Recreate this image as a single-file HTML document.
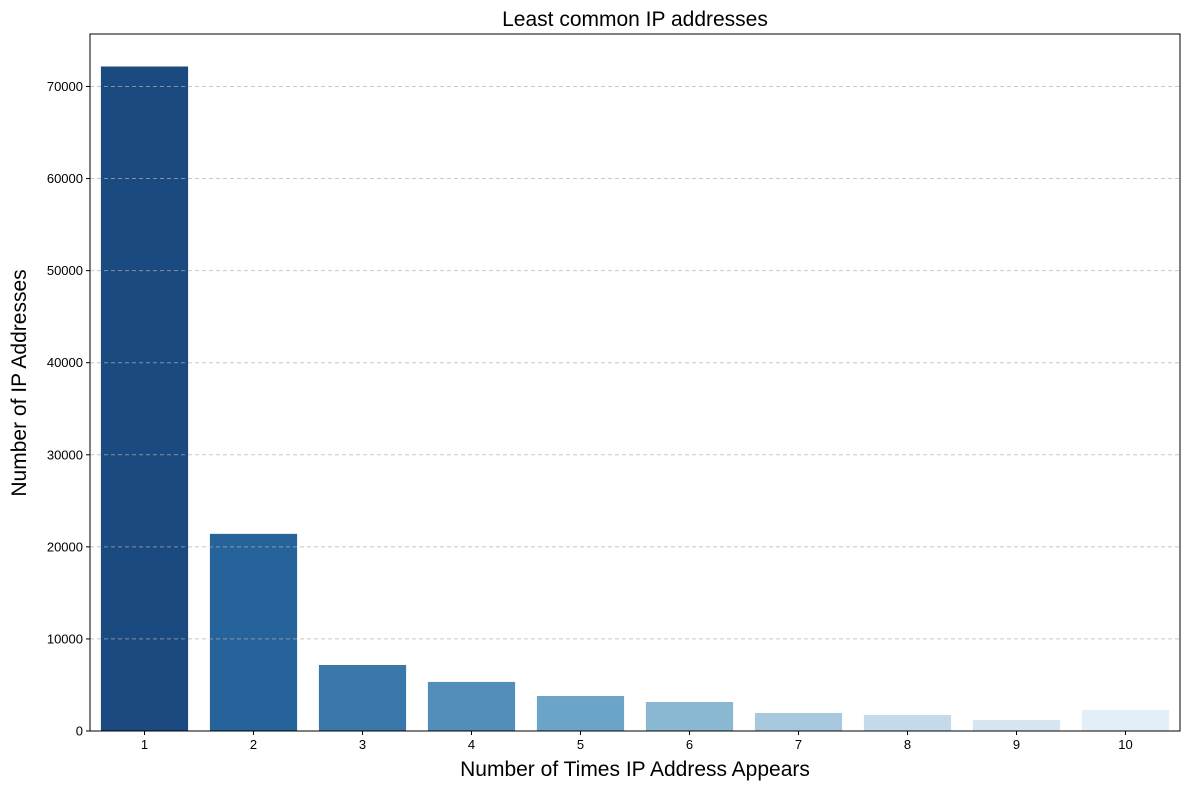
<!DOCTYPE html>
<html><head><meta charset="utf-8"><style>
body{margin:0;background:#fff;}
svg{font-family:"Liberation Sans","DejaVu Sans",sans-serif;}
</style></head><body>
<svg id="chart" width="1190" height="790">
<rect width="1190" height="790" fill="#fff"/>
<g id="bars"></g>
<g id="grid"></g>
<rect x="90" y="34" width="1090" height="697" fill="none" stroke="#000" stroke-width="1"/>
<g id="yticks"></g>
<g id="xticks"></g>
<text x="635" y="26" text-anchor="middle" font-size="21">Least common IP addresses</text>
<text x="635" y="776" text-anchor="middle" font-size="21">Number of Times IP Address Appears</text>
<text transform="translate(26,383) rotate(-90)" text-anchor="middle" font-size="21">Number of IP Addresses</text>
</svg>
<script>
const categories=["1","2","3","4","5","6","7","8","9","10"];
const counts=[72170,21410,7170,5330,3800,3150,1960,1740,1200,2280];
const yTickValues=[0,10000,20000,30000,40000,50000,60000,70000];
const colors=["#1b4a80","#26639b","#3a77ab","#528eb9","#6ca4c7","#8ab7d1","#a8c9dd","#c4d9ea","#d6e5f2","#e3eef8"];
const NS="http://www.w3.org/2000/svg";
const L=90,R=1180,T=34,B=731,yMax=75700;
const y=v=>B-(v/yMax)*(B-T);
const slot=(R-L)/categories.length;
const x=i=>L+slot*i+slot/2;
const bars=document.getElementById('bars'),grid=document.getElementById('grid'),yt=document.getElementById('yticks'),xt=document.getElementById('xticks');
function mk(tag,attrs){const e=document.createElementNS(NS,tag);for(const k in attrs)e.setAttribute(k,attrs[k]);return e;}
counts.forEach((v,i)=>{
 const r=mk('rect',{x:x(i)-slot*0.4,y:y(v),width:slot*0.8,height:B-y(v),fill:colors[i]});
 
 
 bars.appendChild(r);
 const tk=mk('line',{x1:x(i),x2:x(i),y1:B,y2:B+4,stroke:'#000'});
 
 
 xt.appendChild(tk);
 const t=mk('text',{x:x(i),y:B+18,'text-anchor':'middle','font-size':13});
 t.textContent=categories[i];
 
 
 xt.appendChild(t);
});
yTickValues.forEach(v=>{
 if(v>0){const g=mk('line',{x1:L,x2:R,y1:y(v),y2:y(v),stroke:'#b0b0b0','stroke-opacity':0.7,'stroke-dasharray':'4,3'});
 
 
 grid.appendChild(g);}
 const tk=mk('line',{x1:L-4,x2:L,y1:y(v),y2:y(v),stroke:'#000'});
 
 
 yt.appendChild(tk);
 const t=mk('text',{x:L-7,y:y(v)+4.5,'text-anchor':'end','font-size':13});
 t.textContent=v;
 
 
 yt.appendChild(t);
});
</script>
</body></html>
